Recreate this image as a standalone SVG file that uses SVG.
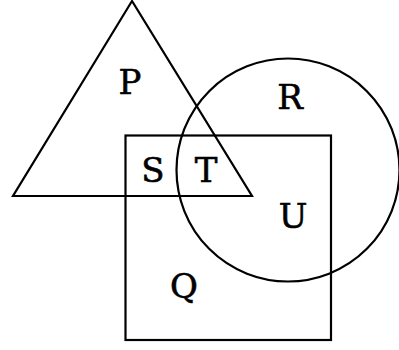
<svg xmlns="http://www.w3.org/2000/svg" width="399" height="350" viewBox="0 0 399 350">
<style>
.s{fill:none;stroke:#000;stroke-width:2.2}
.t{font-family:"DejaVu Serif","Liberation Serif",serif;font-size:34px;fill:#000;stroke:#000;stroke-width:0.6;text-anchor:middle}
</style>
<rect width="399" height="350" fill="#fff"/>
<g id="triangle-P"><polygon class="s" points="132,1 13,196 252,196"/></g>
<g id="circle-R"><circle class="s" cx="288" cy="170" r="111.5"/></g>
<g id="square-Q"><rect class="s" x="125.5" y="135.5" width="205.5" height="204.5"/></g>
<g id="labels">
<text class="t" x="130" y="94">P</text>
<text class="t" x="290" y="109">R</text>
<text class="t" x="153" y="182">S</text>
<text class="t" x="206" y="182">T</text>
<text class="t" x="293" y="228">U</text>
<text class="t" x="184" y="298">Q</text>
</g>
</svg>
